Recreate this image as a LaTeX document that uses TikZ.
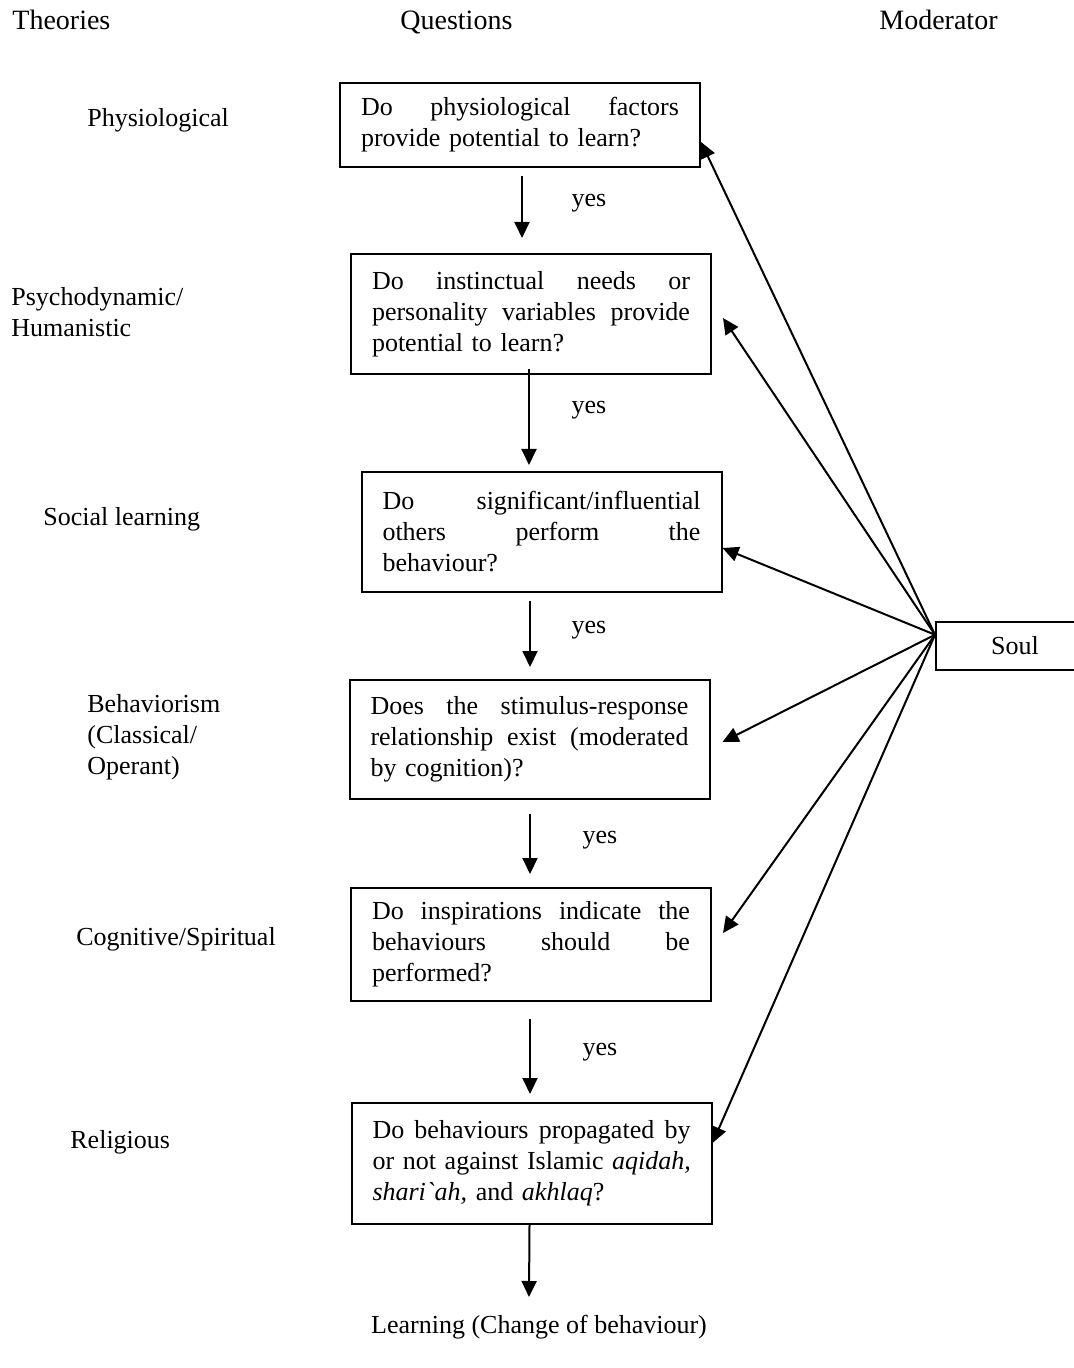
\documentclass[tikz,border=0pt]{standalone}
\usepackage{fontspec}
\setmainfont{Liberation Serif}
\newfontfamily\rawfont{Liberation Serif}[Ligatures=TeXOff]
\usetikzlibrary{arrows.meta,calc}
\newcommand{\jl}[1]{\leavevmode\hbox to 159pt{#1}}
\tikzset{
  every node/.style={font=\fontsize{13}{15.5}\selectfont},
  qbox/.style={draw, line width=1pt, rectangle, text width=159pt, inner xsep=10.5pt, inner ysep=0pt, align=left, minimum width=180pt},
  theory/.style={anchor=west, inner sep=0pt, align=left},
  header/.style={anchor=base west, inner sep=0pt, font=\fontsize{14}{16}\selectfont},
  yeslab/.style={inner sep=0pt},
  arr/.style={line width=1pt, -{Triangle[length=8pt,width=7.5pt]}},
}
\begin{document}
\begin{tikzpicture}[x=0.5pt,y=-0.5pt]
\useasboundingbox (0,0) rectangle (1073,1368);
% headers
\node[header] (h1) at (12,30) {Theories};
\node[header] (h2) at (400,30) {Questions};
\node[header] (h3) at (879,30) {Moderator};
% theories
\node[theory] (t1) at (87,120) {Physiological};
\node[theory] (t2) at (11,312.5) {Psychodynamic/\\Humanistic};
\node[theory] (t3) at (43,519) {Social learning};
\node[theory] (t4) at (87,737) {Behaviorism\\(Classical/\\Operant)};
\node[theory] (t5) at (76,939) {Cognitive/Spiritual};
\node[theory] (t6) at (70,1142) {Religious};
% question boxes
\node[qbox, minimum height=42pt] (b1) at (520,125)
  {\jl{Do \hfill physiological \hfill factors}\\\mbox{provide potential to learn?}};
\node[qbox, minimum height=60pt] (b2) at (531,314)
  {\jl{Do \hfill instinctual \hfill needs \hfill or}\\\jl{personality \hfill variables \hfill provide}\\\mbox{potential to learn?}};
\node[qbox, minimum height=60pt] (b3) at (541.5,532)
  {\jl{Do \hfill significant/influential}\\\jl{others \hfill perform \hfill the}\\\mbox{behaviour?}};
\node[qbox, minimum height=59.5pt] (b4) at (529.5,739.5)
  {\jl{Does \hfill the \hfill stimulus-response}\\\jl{relationship \hfill exist \hfill (moderated}\\\mbox{by cognition)?}};
\node[qbox, minimum height=56.5pt] (b5) at (531,944.5)
  {\jl{Do \hfill inspirations \hfill indicate \hfill the}\\\jl{behaviours \hfill should \hfill be}\\\mbox{performed?}};
\node[qbox, minimum height=60.5pt] (b6) at (531.5,1163.5)
  {\jl{Do \hfill behaviours \hfill propagated \hfill by}\\\mbox{or not against Islamic \textit{aqidah,}}\\\mbox{\textit{shari{\rawfont\itshape`}ah,} and \textit{akhlaq}?}};
% moderator
\node[draw, line width=1pt, minimum width=79pt, minimum height=24pt, inner sep=0pt] (soul) at (1015,646) {Soul};
% outcome
\node[inner sep=0pt] (learn) at (539,1327) {Learning (Change of behaviour)};
% yes labels
\node[yeslab] (y1) at (589,203) {yes};
\node[yeslab] (y2) at (589,410) {yes};
\node[yeslab] (y3) at (589,630) {yes};
\node[yeslab] (y4) at (600,840) {yes};
\node[yeslab] (y5) at (600,1052) {yes};
% vertical arrows
\draw[arr] ($(b1.south)+(2,8)$) -- ($(b2.north)+(-9,-15)$);
\draw[arr] ($(b2.south)+(-2,-6)$) -- ($(b3.north)+(-12.5,-6)$);
\draw[arr] ($(b3.south)+(-11.5,8)$) -- ($(b4.north)+(0.5,-12)$);
\draw[arr] ($(b4.south)+(0.5,14)$) -- ($(b5.north)+(-1,-13)$);
\draw[arr] ($(b5.south)+(-1,17)$) -- ($(b6.north)+(-1.5,-8)$);
\draw[arr] ($(b6.south)+(-2,0)$) -- ($(learn.center)+(-10,-30)$);
% moderator arrows
\draw[arr] (soul.172) -- ($(b1.east)+(0,17)$);
\draw[arr] (soul.172) -- ($(b2.east)+(11,4)$);
\draw[arr] (soul.172) -- ($(b3.east)+(0,16)$);
\draw[arr] (soul.172) -- ($(b4.east)+(12,2.5)$);
\draw[arr] (soul.172) -- ($(b5.east)+(11,-11.5)$);
\draw[arr] (soul.172) -- ($(b6.east)+(0,-20.5)$);
\end{tikzpicture}
\end{document}
